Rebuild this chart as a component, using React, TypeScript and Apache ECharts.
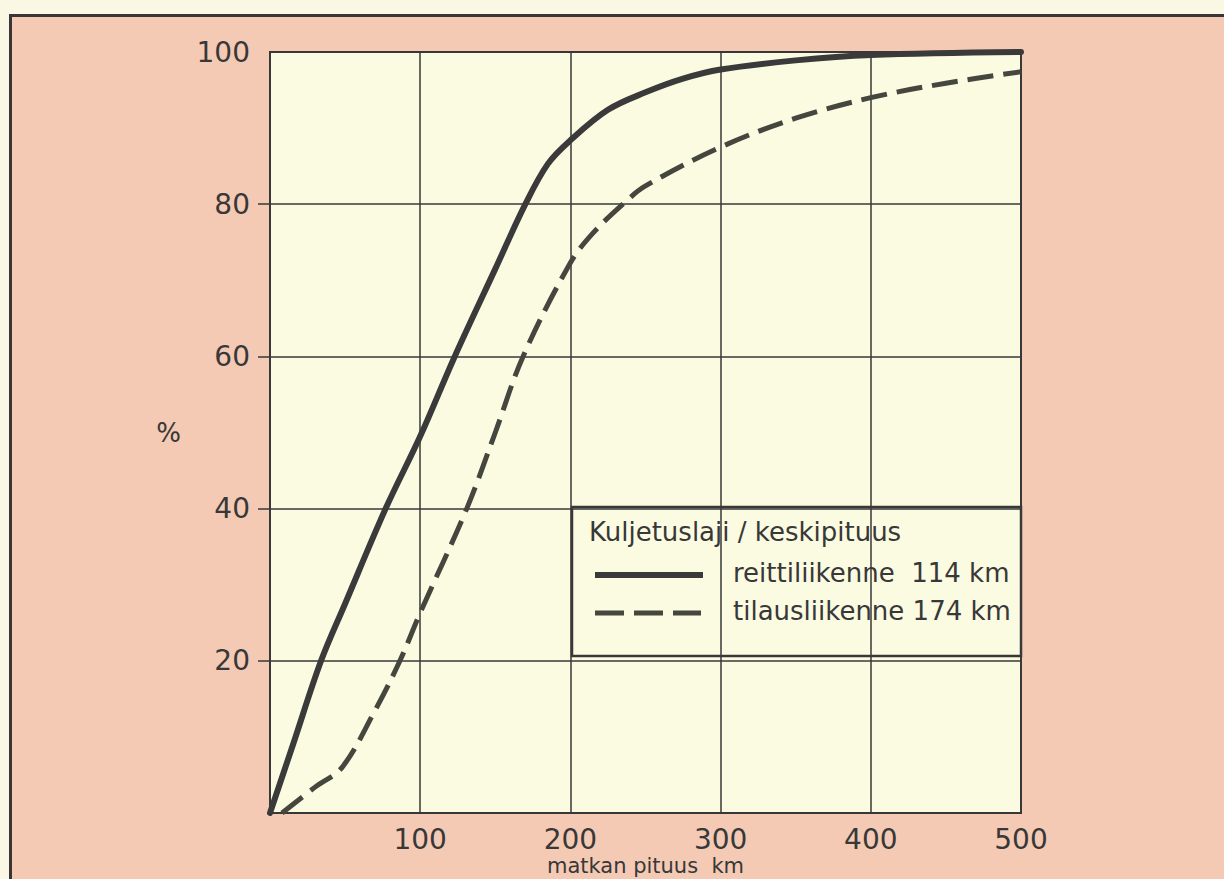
import React, { useEffect, useRef } from "react";
import * as echarts from "echarts";

// x: matkan pituus (km), y: cumulative %
const solidX = [0, 15, 34, 50, 77, 100, 123, 150, 170, 185, 200, 225, 250, 275, 300, 350, 400, 500];
const solidY = [0, 8.8, 20, 27.5, 40, 49.5, 60, 71.5, 80, 85.3, 88.4, 92.4, 94.7, 96.5, 97.7, 98.9, 99.6, 100];

const dashX = [8, 30, 48, 70, 86.5, 100, 131, 150, 168.5, 200, 215, 236, 250, 300, 350, 400, 450, 500];
const dashY = [0, 3.4, 6, 13.5, 20, 26.3, 40, 50, 60, 72.3, 76.2, 80.2, 82.4, 87.5, 91.3, 94, 95.9, 97.4];

const legendTitle = "Kuljetuslaji / keskipituus";
const seriesNames = ["reittiliikenne  114 km", "tilausliikenne 174 km"];
const xAxisName = "matkan pituus  km";
const yAxisName = "%";
const yTickValues = [20, 40, 60, 80];

const INK = "#383838";
const FONT = "DejaVu Sans";
const PLOT_BG = "#fbfbe2";

export default function App() {
  const ref = useRef<HTMLDivElement>(null);
  useEffect(() => {
    const chart = echarts.init(ref.current!, null, { renderer: "svg" });
    const solid = solidX.map((x, i) => [x, solidY[i]]);
    const dashed = dashX.map((x, i) => [x, dashY[i]]);
    chart.setOption({
      animation: false,
      backgroundColor: "transparent",
      grid: {
        left: 270,
        top: 52,
        width: 751,
        height: 761,
        show: true,
        backgroundColor: PLOT_BG,
        borderColor: INK,
        borderWidth: 2,
        outerBoundsMode: "none",
      },
      xAxis: {
        type: "value",
        min: 0,
        max: 500,
        interval: 100,
        axisLine: { show: true, lineStyle: { color: INK, width: 2 } },
        axisTick: { show: false },
        splitLine: { show: true, lineStyle: { color: INK, width: 1.5 } },
        axisLabel: {
          margin: 12,
          fontSize: 28,
          fontFamily: FONT,
          color: INK,
          formatter: (v: number) => (v === 0 ? "" : String(v)),
        },
        name: xAxisName,
        nameLocation: "middle",
        nameGap: 42,
        nameMoveOverlap: false,
        nameTextStyle: { fontSize: 21, fontFamily: FONT, color: INK },
      },
      yAxis: {
        type: "value",
        min: 0,
        max: 100,
        interval: 20,
        axisLine: { show: true, lineStyle: { color: INK, width: 2 } },
        axisTick: {
          show: true,
          length: 12,
          customValues: yTickValues,
          lineStyle: { color: INK, width: 1.5 },
        },
        splitLine: { show: true, lineStyle: { color: INK, width: 1.5 } },
        axisLabel: {
          margin: 20,
          fontSize: 28,
          fontFamily: FONT,
          color: INK,
          formatter: (v: number) => (v === 0 ? "" : String(v)),
        },
        name: yAxisName,
        nameLocation: "middle",
        nameRotate: 0,
        nameGap: 89,
        nameMoveOverlap: false,
        nameTextStyle: { fontSize: 26, fontFamily: FONT, color: INK },
      },
      series: [
        {
          name: seriesNames[0],
          type: "line",
          data: solid,
          smooth: 0.35,
          showSymbol: false,
          lineStyle: { color: "#3a3a3a", width: 6, cap: "round" },
          z: 3,
        },
        {
          name: seriesNames[1],
          type: "line",
          data: dashed,
          smooth: 0.35,
          showSymbol: false,
          lineStyle: { color: "#45473f", width: 5, type: [26, 10] },
          z: 3,
        },
      ],
      graphic: [
        {
          type: "group",
          z: 100,
          children: [
            {
              type: "rect",
              shape: { x: 572, y: 507, width: 449, height: 149 },
              style: { fill: PLOT_BG, stroke: INK, lineWidth: 2.5 },
            },
            {
              type: "text",
              x: 589,
              y: 532,
              style: {
                text: legendTitle,
                font: `26px "${FONT}"`,
                fill: INK,
                verticalAlign: "middle",
              },
            },
            {
              type: "line",
              shape: { x1: 595, y1: 575, x2: 703, y2: 575 },
              style: { stroke: "#3a3a3a", lineWidth: 6 },
            },
            {
              type: "text",
              x: 733,
              y: 573,
              style: {
                text: seriesNames[0],
                font: `26px "${FONT}"`,
                fill: INK,
                verticalAlign: "middle",
              },
            },
            {
              type: "line",
              shape: { x1: 595, y1: 613, x2: 701, y2: 613 },
              style: { stroke: "#45473f", lineWidth: 5, lineDash: [29, 10] },
            },
            {
              type: "text",
              x: 733,
              y: 611,
              style: {
                text: seriesNames[1],
                font: `26px "${FONT}"`,
                fill: INK,
                verticalAlign: "middle",
              },
            },
          ],
        },
      ],
    });
    return () => chart.dispose();
  }, []);

  return (
    <div
      style={{
        position: "absolute",
        left: 0,
        top: 0,
        width: 1224,
        height: 879,
        background: "#faf8e4",
        overflow: "hidden",
      }}
    >
      <div
        style={{
          position: "absolute",
          left: 9,
          top: 14,
          width: 1240,
          height: 900,
          background: "#f4cab5",
          border: "3px solid #3a3536",
        }}
      />
      <div
        ref={ref}
        style={{ position: "absolute", left: 0, top: 0, width: 1224, height: 879 }}
      />
    </div>
  );
}
